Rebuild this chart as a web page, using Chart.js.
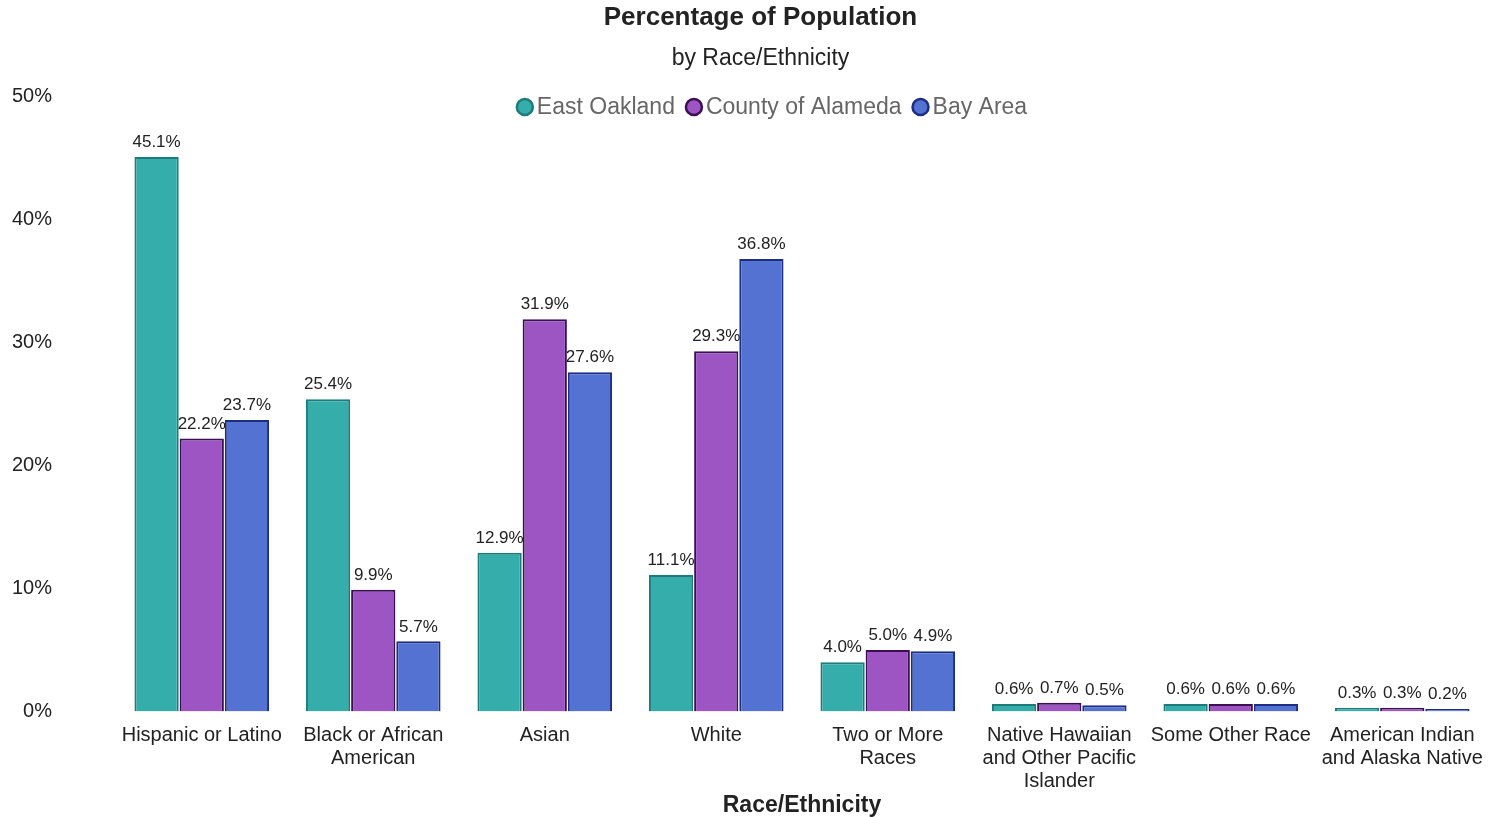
<!DOCTYPE html>
<html>
<head>
<meta charset="utf-8">
<script src="https://cdn.jsdelivr.net/npm/chart.js@4/dist/chart.umd.min.js"></script>
<style>
  html, body { margin: 0; padding: 0; background: #fff; }
  #wrap { width: 1488px; height: 817px; }
</style>
</head>
<body>
<div id="wrap"><canvas id="population-chart"></canvas></div>
<script>
  const categories = [
    "Hispanic or Latino",
    ["Black or African", "American"],
    "Asian",
    "White",
    ["Two or More", "Races"],
    ["Native Hawaiian", "and Other Pacific", "Islander"],
    "Some Other Race",
    ["American Indian", "and Alaska Native"],
  ];
  const eastOakland = [45.1, 25.4, 12.9, 11.1, 4.0, 0.6, 0.6, 0.3];
  const countyOfAlameda = [22.2, 9.9, 31.9, 29.3, 5.0, 0.7, 0.6, 0.3];
  const bayArea = [23.7, 5.7, 27.6, 36.8, 4.9, 0.5, 0.6, 0.2];
  const yTicks = [0, 10, 20, 30, 40, 50];

  const fontFamily = "Arial, 'Liberation Sans', sans-serif";
  const titleText = "Percentage of Population";
  const subtitleText = "by Race/Ethnicity";

  // draws the value above every bar
  const barLabels = {
    id: "barLabels",
    afterDatasetsDraw(chart) {
      const { ctx } = chart;
      ctx.save();
      ctx.font = `17px ${fontFamily}`;
      ctx.fillStyle = "#222";
      ctx.textAlign = "center";
      ctx.textBaseline = "bottom";
      chart.data.datasets.forEach((ds, i) => {
        chart.getDatasetMeta(i).data.forEach((bar, j) => {
          ctx.fillText(ds.data[j].toFixed(1) + "%", bar.x, bar.y - 6);
        });
      });
      ctx.restore();
    },
  };

  // legend sits over the top of the plot, like the original
  const overlayLegend = {
    id: "overlayLegend",
    afterLayout(chart) {
      // titles in the original are a bit right of the page centre
      chart.boxes.forEach((box) => {
        const text = box.options && box.options.text;
        if (text === titleText || text === subtitleText) {
          box.left += 15;
          box.right += 15;
        }
      });
    },
    afterDraw(chart) {
      const { ctx } = chart;
      const radius = 8;
      const gapText = 4;
      const gapItem = 11;
      const cy = 107;
      ctx.save();
      ctx.font = `23px ${fontFamily}`;
      const items = chart.data.datasets.map((ds) => ({
        ds,
        w: ctx.measureText(ds.label).width,
      }));
      const total = items.reduce((s, it) => s + radius * 2 + gapText + it.w, 0) + gapItem * (items.length - 1);
      let x = 772 - total / 2;
      items.forEach(({ ds, w }) => {
        ctx.beginPath();
        ctx.arc(x + radius, cy, radius, 0, Math.PI * 2);
        ctx.fillStyle = ds.backgroundColor;
        ctx.fill();
        ctx.lineWidth = 2.5;
        ctx.strokeStyle = ds.borderColor;
        ctx.stroke();
        x += radius * 2 + gapText;
        ctx.fillStyle = "#666";
        ctx.textAlign = "left";
        ctx.textBaseline = "middle";
        ctx.fillText(ds.label, x, cy + 1);
        x += w + gapItem;
      });
      ctx.restore();
    },
  };

  const canvas = document.getElementById("population-chart");

  const chartConfig = {
    type: "bar",
    data: {
      labels: categories,
      datasets: [
        {
          label: "East Oakland",
          data: eastOakland,
          backgroundColor: "#34ADAB",
          borderColor: "#1D7C79",
          borderWidth: 2,
        },
        {
          label: "County of Alameda",
          data: countyOfAlameda,
          backgroundColor: "#9C55C3",
          borderColor: "#3B0F52",
          borderWidth: 2,
        },
        {
          label: "Bay Area",
          data: bayArea,
          backgroundColor: "#5472D2",
          borderColor: "#1C2E84",
          borderWidth: 2,
        },
      ],
    },
    options: {
      responsive: true,
      maintainAspectRatio: false,
      animation: false,
      layout: { padding: { left: 0, right: -3, top: 0, bottom: 0 } },
      datasets: {
        bar: { categoryPercentage: 0.79, barPercentage: 0.98 },
      },
      plugins: {
        title: {
          display: true,
          text: titleText,
          color: "#222",
          font: { family: fontFamily, size: 26, weight: "bold" },
          padding: { top: 2, bottom: 12 },
        },
        subtitle: {
          display: true,
          text: subtitleText,
          color: "#222",
          font: { family: fontFamily, size: 23 },
          padding: { top: 0, bottom: 24 },
        },
        legend: { display: false },
        tooltip: { enabled: false },
      },
      scales: {
        x: {
          grid: { display: false, drawTicks: false },
          border: { display: false },
          afterFit: (scale) => {
            scale.paddingLeft = 0;
            scale.paddingRight = 0;
            scale.height -= 15;
          },
          ticks: {
            color: "#222",
            padding: 13,
            maxRotation: 0,
            autoSkip: false,
            font: { family: fontFamily, size: 20, lineHeight: 1.15 },
          },
          title: {
            display: true,
            text: "Race/Ethnicity",
            color: "#222",
            padding: { top: 0, bottom: -2 },
            font: { family: fontFamily, size: 23, weight: "bold" },
          },
        },
        y: {
          min: 0,
          max: 50,
          grid: { display: false, drawTicks: false },
          border: { display: false },
          afterFit: (scale) => {
            scale.width = 116;
          },
          afterBuildTicks: (scale) => {
            scale.ticks = yTicks.map((v) => ({ value: v }));
          },
          ticks: {
            color: "#222",
            padding: 64,
            font: { family: fontFamily, size: 20 },
            callback: (v) => v + "%",
          },
        },
      },
    },
    plugins: [barLabels, overlayLegend],
  };

  const populationChart = new Chart(canvas, chartConfig);
</script>
</body>
</html>
